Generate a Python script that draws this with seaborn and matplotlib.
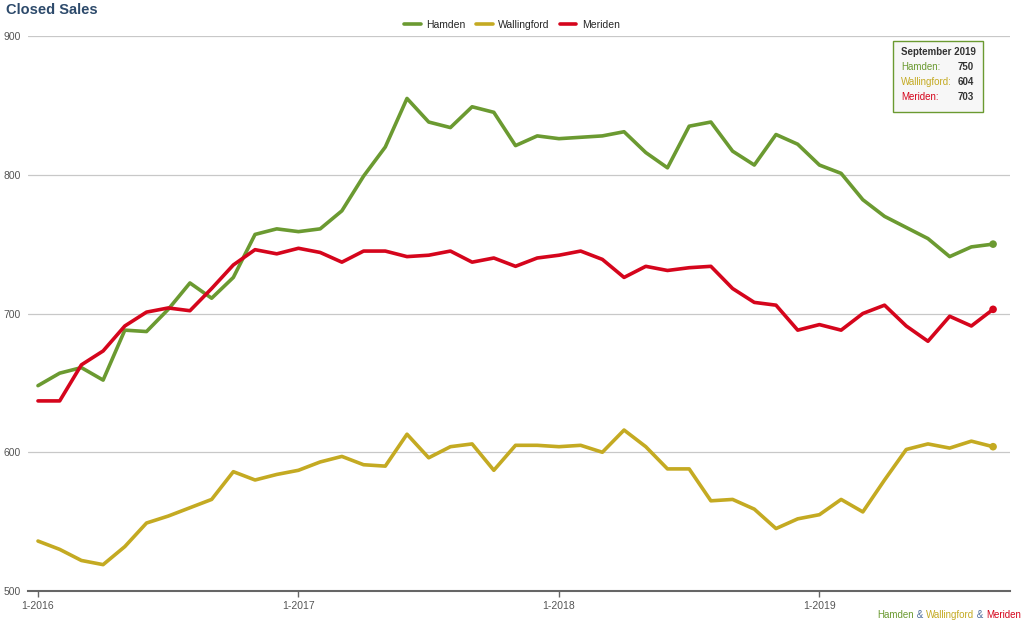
import pandas as pd
import numpy as np
import matplotlib.pyplot as plt
import seaborn as sns

months = ['%d-%d' % (m, y) for y in range(2016, 2020) for m in range(1, 13)][:45]

hamden = [648, 657, 661, 652, 688, 687, 703, 722, 711, 726, 757, 761,
          759, 761, 774, 799, 820, 855, 838, 834, 849, 845, 821, 828,
          826, 827, 828, 831, 816, 805, 835, 838, 817, 807, 829, 822,
          807, 801, 782, 770, 762, 754, 741, 748, 750]
wallingford = [536, 530, 522, 519, 532, 549, 554, 560, 566, 586, 580, 584,
               587, 593, 597, 591, 590, 613, 596, 604, 606, 587, 605, 605,
               604, 605, 600, 616, 604, 588, 588, 565, 566, 559, 545, 552,
               555, 566, 557, 580, 602, 606, 603, 608, 604]
meriden = [637, 637, 663, 673, 691, 701, 704, 702, 718, 735, 746, 743,
           747, 744, 737, 745, 745, 741, 742, 745, 737, 740, 734, 740,
           742, 745, 739, 726, 734, 731, 733, 734, 718, 708, 706, 688,
           692, 688, 700, 706, 691, 680, 698, 691, 703]

tick_labels = ['1-2016', '1-2017', '1-2018', '1-2019']
colors = {'Hamden': '#6b9a31', 'Wallingford': '#c4aa22', 'Meriden': '#d5051c'}

df = pd.DataFrame({'month': months, 'Hamden': hamden,
                   'Wallingford': wallingford, 'Meriden': meriden})
df['i'] = np.arange(len(df))
df_long = df.melt(id_vars=['month', 'i'], var_name='city', value_name='sales')

sns.set_style('white')
plt.rcParams['font.family'] = ['Liberation Sans', 'DejaVu Sans']

fig = plt.figure(figsize=(10.24, 6.24), dpi=100)
ax = fig.add_axes([28 / 1024, 1 - 591 / 624, (1010 - 28) / 1024, (591 - 36) / 624])

sns.lineplot(data=df_long, x='i', y='sales', hue='city', palette=colors,
             linewidth=2.6, ax=ax, legend=False, zorder=3)

# end dots
last = df.iloc[-1]
for c in colors:
    ax.scatter(last['i'], last[c], s=30, color=colors[c], zorder=4, edgecolor='none')

ax.set_xlim(-0.46, 44.78)
ax.set_ylim(500, 900)
ax.set_yticks([500, 600, 700, 800, 900])
ax.set_yticklabels(['500', '600', '700', '800', '900'])
ax.yaxis.grid(True, color='#c8c8c8', linewidth=0.9)
ax.set_axisbelow(True)
ax.tick_params(axis='y', left=False, length=0, pad=5, labelsize=7.5, labelcolor='#555555')
ax.set_xticks([0, 12, 24, 36])
ax.set_xticklabels(tick_labels)
ax.tick_params(axis='x', bottom=True, direction='out', length=4, width=1,
               color='#666666', pad=3, labelsize=7.5, labelcolor='#555555')
ax.set_xlabel('')
ax.set_ylabel('')
for s in ['top', 'right', 'left']:
    ax.spines[s].set_visible(False)
ax.spines['bottom'].set_color('#666666')
ax.spines['bottom'].set_linewidth(1.5)

fig.text(6 / 1024, 1 - 10 / 624, 'Closed Sales', fontsize=10.5, fontweight='bold',
         color='#2d4a6b', va='center')

handles = [plt.Line2D([], [], color=colors[c], linewidth=2.6) for c in colors]
fig.legend(handles, list(colors), loc='center', bbox_to_anchor=(0.5, 1 - 25 / 624),
           ncol=3, frameon=False, fontsize=7.5, handlelength=1.6,
           columnspacing=1.0, handletextpad=0.5)

# tooltip box
box = plt.Rectangle((893 / 1024, 1 - 112 / 624), 90 / 1024, 71 / 624,
                    transform=fig.transFigure, facecolor='#f7f7f7',
                    edgecolor='#6b9a31', linewidth=1, zorder=5)
fig.patches.append(box)
fig.text(938 / 1024, 1 - 52 / 624, 'September 2019', fontsize=7, fontweight='bold',
         color='#333333', ha='center', va='center', zorder=6)
rows = [('Hamden:', 750, 67), ('Wallingford:', 604, 82), ('Meriden:', 703, 97)]
for name, val, yy in rows:
    c = colors[name[:-1]]
    fig.text(901 / 1024, 1 - yy / 624, name, fontsize=7, color=c, va='center', zorder=6)
    fig.text(974 / 1024, 1 - yy / 624, str(val), fontsize=7, fontweight='bold',
             color='#333333', ha='right', va='center', zorder=6)

# bottom-right caption
x0 = 1021 / 1024
parts = [('Meriden', colors['Meriden']), (' & ', '#4a6a9a'),
         ('Wallingford', colors['Wallingford']), (' & ', '#4a6a9a'),
         ('Hamden', colors['Hamden'])]
fig.canvas.draw()
r = fig.canvas.get_renderer()
for txt, c in parts:
    t = fig.text(x0, 1 - 615 / 624, txt, fontsize=7, color=c, ha='right', va='center')
    bb = t.get_window_extent(renderer=r)
    x0 -= bb.width / 1024

fig.savefig('out.png', dpi=100)
